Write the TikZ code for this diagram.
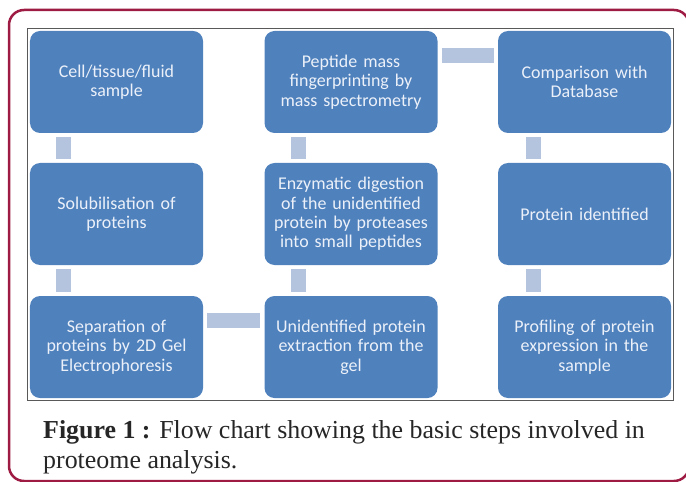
\documentclass[tikz,border=0pt]{standalone}
\usepackage{fontspec}
\newfontfamily\boxfont{Carlito}
\newfontfamily\capfont{Liberation Serif}
\usepackage{tikz}
\usetikzlibrary{calc, positioning}
\tikzset{
    rectanglenode/.style = {rectangle, fill=boxblue, draw=none, rounded corners=10bp, inner sep=0em,
      minimum width=173bp, minimum height=102bp, text width=168bp, align=center,
      text=boxtext, font=\boxfont\fontsize{18}{19.5}\selectfont, node distance=0em},
    textnode/.style  = {draw=none, fill=none, rectangle, inner sep=0em, node distance=0em},
    bar/.style = {draw=barblue, line width=15bp, line cap=butt}
}
\definecolor{boxblue}{RGB}{79, 129, 189}
\definecolor{barblue}{RGB}{180, 196, 222}
\definecolor{boxtext}{RGB}{236, 241, 249}
\definecolor{framered}{RGB}{158, 28, 68}

\begin{document}
\begin{tikzpicture}[x=1bp, y=-1bp]
\useasboundingbox (0,0) rectangle (686,482);
\draw[framered, line width=2.5bp, rounded corners=15bp] (9,10) rectangle (689,481);
\draw[black!65, line width=1bp] (27,29) rectangle (673,400);

\node[rectanglenode, name=cell] at (116.5,82) {Cell/tissue/fluid\\sample};
\node[rectanglenode, name=solub, below of = cell, yshift=-132bp] {Solubilisation of\\proteins};
\node[rectanglenode, name=separ, below of = solub, yshift=-133bp] {Separation of\\proteins by 2D Gel\\Electrophoresis};

\node[rectanglenode, name=unident, right of = separ, xshift=234.5bp] {Unidentified protein\\extraction from the\\gel};
\node[rectanglenode, name=enzym, above of = unident, yshift=133bp] {Enzymatic digestion\\of the unidentified\\protein by proteases\\into small peptides};
\node[rectanglenode, name=peptide, above of = enzym, yshift=132bp] {Peptide mass\\fingerprinting by\\mass spectrometry};

\node[rectanglenode, name=compare, right of = peptide, xshift=233.5bp] {Comparison with\\Database};
\node[rectanglenode, name=ident, below of = compare, yshift=-132bp] {Protein identified};
\node[rectanglenode, name=profil, below of = ident, yshift=-133bp] {Profiling of protein\\expression in the\\sample};

% links between the steps
\draw[bar] ([xshift=34bp, yshift=-4bp]cell.south west) -- ([xshift=34bp, yshift=4bp]solub.north west);
\draw[bar] ([xshift=34bp, yshift=-4bp]solub.south west) -- ([xshift=34bp, yshift=4bp]separ.north west);
\draw[bar] ([xshift=4bp, yshift=-24.5bp]separ.north east) -- ([xshift=-4bp, yshift=-24.5bp]unident.north west);
\draw[bar] ([xshift=34bp, yshift=4bp]unident.north west) -- ([xshift=34bp, yshift=-4bp]enzym.south west);
\draw[bar] ([xshift=34bp, yshift=4bp]enzym.north west) -- ([xshift=34bp, yshift=-4bp]peptide.south west);
\draw[bar] ([xshift=4bp, yshift=-24.5bp]peptide.north east) -- ([xshift=-4bp, yshift=-24.5bp]compare.north west);
\draw[bar] ([xshift=36bp, yshift=-4bp]compare.south west) -- ([xshift=36bp, yshift=4bp]ident.north west);
\draw[bar] ([xshift=36bp, yshift=-4bp]ident.south west) -- ([xshift=36bp, yshift=4bp]profil.north west);

\node[textnode, name=caption, anchor=base west, align=left, text=black!85,
  font=\capfont\fontsize{26}{30}\selectfont] at (43,468)
  {\textbf{Figure 1 :} Flow chart showing the basic steps involved in\\proteome analysis.};
\end{tikzpicture}
\end{document}
